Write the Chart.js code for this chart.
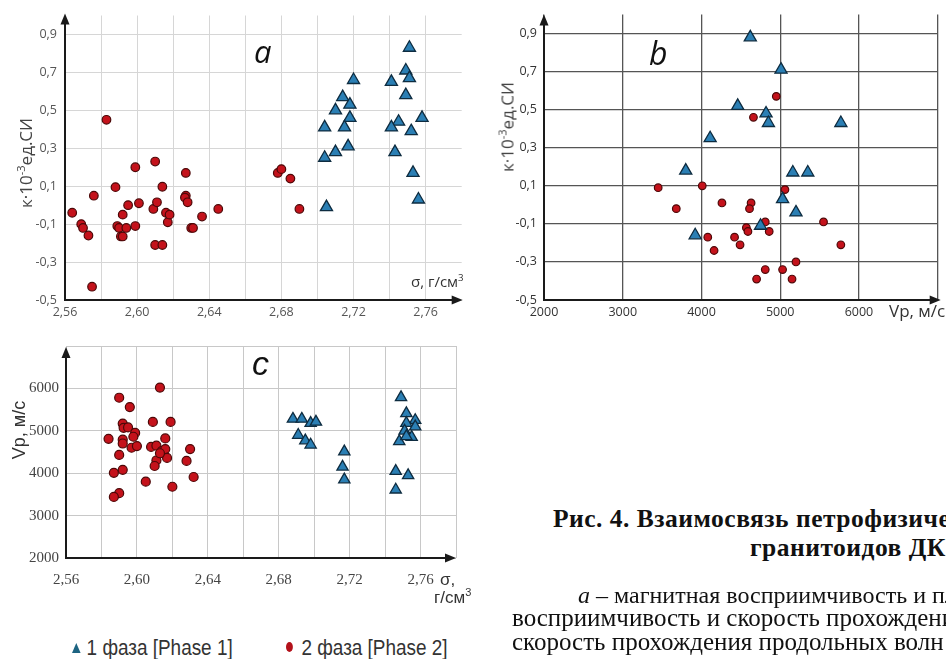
<!DOCTYPE html>
<html lang="ru"><head><meta charset="utf-8">
<script src="https://cdn.jsdelivr.net/npm/chart.js@4.4.1/dist/chart.umd.min.js"></script>
<style>
html,body{margin:0;padding:0;width:946px;height:659px;overflow:hidden;background:#fff;position:relative}
canvas{position:absolute}
.t{position:absolute;white-space:nowrap;line-height:1}
.rot{position:absolute;white-space:nowrap;line-height:1;transform:translate(-50%,-50%) rotate(-90deg)}
.os{font-family:"Open Sans",sans-serif}
.nar{font-family:"Liberation Sans Narrow","Arial Narrow","Liberation Sans",sans-serif}
.ser{font-family:"Liberation Serif","Times New Roman",serif;color:#111}
sup{font-size:65%;position:relative;top:-0.6em;vertical-align:0;line-height:0}
.tri{display:inline-block;width:0;height:0;border-left:5px solid transparent;border-right:5px solid transparent;border-bottom:10px solid #1d6482;margin-right:7px;vertical-align:2px}
.dot{display:inline-block;width:8px;height:10px;border-radius:50%;background:#b3111a;margin-right:10px;vertical-align:3px}
.sq{transform-origin:0 50%;transform:scaleX(0.86)}
</style></head><body>
<canvas id="chA" width="470" height="322" style="left:0;top:0"></canvas>
<canvas id="chB" width="476" height="322" style="left:470px;top:0"></canvas>
<canvas id="chC" width="470" height="270" style="left:0;top:330px"></canvas>

<div class="rot os" style="left:25px;top:163px;font-size:17px;color:#444">к·10<sup>-3</sup>ед.СИ</div>
<div class="rot os" style="left:507px;top:127px;font-size:17px;color:#444">к·10<sup>-3</sup>ед.СИ</div>
<div class="rot nar" style="left:19px;top:430px;font-size:18px;color:#333">Vp, м/с</div>

<div class="t os" style="left:254px;top:36px;font-size:31px;font-style:italic;color:#111">a</div>
<div class="t os" style="left:649px;top:37px;font-size:32px;font-style:italic;color:#111">b</div>
<div class="t" style="left:252px;top:346px;font-size:34px;font-style:italic;color:#111;font-family:'Liberation Sans',sans-serif">c</div>

<div class="t os" style="left:411px;top:274px;font-size:15px;color:#333">σ, г/см<sup>3</sup></div>
<div class="t os" style="left:889px;top:302px;font-size:17px;color:#333">Vp, м/с</div>
<div class="t nar" style="left:440px;top:571px;font-size:17px;color:#333">σ,</div>
<div class="t nar" style="left:434px;top:589px;font-size:17px;color:#333">г/см<sup>3</sup></div>

<div class="t nar sq" style="left:72px;top:637px;font-size:22px;color:#333"><span class="tri"></span>1 фаза [Phase 1]</div>
<div class="t nar sq" style="left:286px;top:637px;font-size:22px;color:#333"><span class="dot"></span>2 фаза [Phase 2]</div>

<div class="t ser" style="left:553px;top:506px;font-size:25.5px;letter-spacing:0.5px;font-weight:bold">Рис. 4. Взаимосвязь петрофизических свойств</div>
<div class="t ser" style="left:750px;top:535px;font-size:25.5px;letter-spacing:0.5px;font-weight:bold">гранитоидов ДКМ</div>
<div class="t ser" style="left:578px;top:583px;font-size:24px"><i>а</i> – магнитная восприимчивость и плотность</div>
<div class="t ser" style="left:512px;top:605px;font-size:25px">восприимчивость и скорость прохождения</div>
<div class="t ser" style="left:512px;top:629px;font-size:25px">скорость прохождения продольных волн</div>

<script>
// ---------- Panel a: density vs magnetic susceptibility ----------
const aPhase1X = [2.751,2.749,2.751,2.741,2.720,2.749,2.714,2.718,2.710,2.718,2.758,2.715,2.704,2.745,2.741,2.752,2.717,2.710,2.704,2.743,2.753,2.756,2.705];
const aPhase1Y = [0.83,0.71,0.67,0.65,0.66,0.58,0.57,0.53,0.50,0.46,0.46,0.41,0.41,0.44,0.41,0.39,0.31,0.28,0.25,0.28,0.17,0.03,-0.01];
const aPhase2X = [2.564,2.569,2.570,2.573,2.576,2.575,2.583,2.588,2.589,2.590,2.591,2.592,2.592,2.594,2.595,2.599,2.599,2.601,2.609,2.610,2.610,2.611,2.614,2.614,2.616,2.617,2.618,2.627,2.627,2.6265,2.628,2.630,2.631,2.636,2.645,2.678,2.680,2.685,2.690];
const aPhase2Y = [-0.04,-0.10,-0.12,-0.16,0.05,-0.43,0.45,0.095,-0.11,-0.12,-0.165,-0.165,-0.05,-0.12,0.00,0.20,-0.11,0.01,-0.02,0.23,-0.21,0.015,-0.21,0.097,-0.04,-0.09,-0.05,0.17,0.05,0.04,0.015,-0.12,-0.12,-0.06,-0.02,0.17,0.19,0.14,-0.02];

// ---------- Panel b: Vp vs magnetic susceptibility ----------
const bPhase1X = [3800,3920,4110,4620,5010,4460,4820,4850,5770,5160,5350,5030,5200,4750];
const bPhase1Y = [0.18,-0.16,0.35,0.88,0.71,0.52,0.48,0.43,0.43,0.17,0.17,0.03,-0.04,-0.11];
const bPhase2X = [3450,3680,4010,4080,4950,4660,5060,4260,4630,4610,5550,4810,4570,4590,4860,4420,4490,4160,5770,5200,4810,5030,4700,5150];
const bPhase2Y = [0.09,-0.02,0.10,-0.17,0.57,0.46,0.08,0.01,0.01,-0.02,-0.09,-0.09,-0.12,-0.14,-0.14,-0.17,-0.21,-0.24,-0.21,-0.30,-0.34,-0.34,-0.39,-0.39];

// ---------- Panel c: density vs Vp ----------
const cPhase1X = [2.749,2.688,2.693,2.698,2.701,2.691,2.695,2.698,2.717,2.716,2.717,2.752,2.757,2.752,2.757,2.751,2.755,2.748,2.752,2.746,2.753,2.746];
const cPhase1Y = [5790,5280,5280,5180,5210,4900,4770,4670,4510,4150,3850,5410,5250,5180,5100,5000,4850,4750,4870,4050,3950,3610];
const cPhase2X = [2.613,2.590,2.596,2.609,2.619,2.592,2.5925,2.595,2.599,2.598,2.584,2.592,2.592,2.616,2.597,2.600,2.608,2.611,2.614,2.616,2.630,2.590,2.617,2.611,2.610,2.628,2.592,2.587,2.632,2.605,2.620,2.590,2.587,2.613];
const cPhase2Y = [6020,5780,5560,5210,5210,5170,5070,5080,4950,4860,4810,4790,4700,4820,4600,4640,4620,4650,4520,4570,4570,4430,4360,4300,4170,4290,4080,4010,3910,3800,3680,3530,3440,4470];

// ---------- ticks ----------
const densityGrid = [2.56,2.58,2.60,2.62,2.64,2.66,2.68,2.70,2.72,2.74,2.76];
const densityGridC = [2.56,2.58,2.60,2.62,2.64,2.66,2.68,2.70,2.72,2.74,2.76,2.78];
const densityLabels = ['2,56','2,60','2,64','2,68','2,72','2,76'];
const kappaGrid = [-0.5,-0.3,-0.1,0.1,0.3,0.5,0.7,0.9];
const vpGridB = [2000,3000,4000,5000,6000,7000];
const vpLabelsB = ['2000','3000','4000','5000','6000'];
const vpGridC = [2000,3000,4000,5000,6000,7000];
const vpLabelsC = ['2000','3000','4000','5000','6000'];

const RED = '#c4121b', RED_EDGE = '#4d0808';
const BLUE = '#2b7fb4', BLUE_EDGE = '#0e2c40';

const zip = (xs, ys) => xs.map((x, i) => ({x, y: ys[i]}));
const comma2 = v => v.toFixed(2).replace('.', ',');
const comma1 = v => v.toFixed(1).replace('.', ',');

const axisArrows = {
  id: 'axisArrows',
  beforeDatasetsDraw(chart, args, o) {
    const {ctx, chartArea: {left, right, top, bottom}} = chart;
    const ey = o.ey || 0, ex = o.ex || 0, L = 11, W = 4.5;
    ctx.save();
    ctx.strokeStyle = ctx.fillStyle = '#1a1a1a';
    ctx.lineWidth = o.lw || 2;
    ctx.beginPath();
    ctx.moveTo(left, bottom + 1); ctx.lineTo(left, top - ey + L - 1);
    ctx.moveTo(left - 1, bottom); ctx.lineTo(right + ex - L + 1, bottom);
    ctx.stroke();
    ctx.beginPath();
    ctx.moveTo(left, top - ey); ctx.lineTo(left - W, top - ey + L); ctx.lineTo(left + W, top - ey + L); ctx.closePath(); ctx.fill();
    ctx.beginPath();
    ctx.moveTo(right + ex, bottom); ctx.lineTo(right + ex - L, bottom - W); ctx.lineTo(right + ex - L, bottom + W); ctx.closePath(); ctx.fill();
    ctx.restore();
  }
};

function scatter(id, o) {
  return new Chart(document.getElementById(id), {
    type: 'scatter',
    data: {datasets: [
      {label: '1 фаза [Phase 1]', data: zip(o.p1x, o.p1y), pointStyle: 'triangle', pointRadius: o.tr,
       backgroundColor: BLUE, borderColor: BLUE_EDGE, borderWidth: 1.3},
      {label: '2 фаза [Phase 2]', data: zip(o.p2x, o.p2y), pointStyle: 'circle', pointRadius: o.cr,
       backgroundColor: RED, borderColor: RED_EDGE, borderWidth: 1.2}
    ]},
    options: {
      responsive: false, animation: false, events: [],
      layout: {padding: o.pad},
      plugins: {legend: {display: false}, tooltip: {enabled: false}, axisArrows: {ex: o.ex, ey: o.ey}},
      scales: {
        x: {type: 'linear', min: o.xmin, max: o.xmax, border: {display: false},
            grid: {color: o.grid, lineWidth: o.gw, drawTicks: false},
            ticks: {padding: o.xpad, color: o.tc, font: o.font, maxRotation: 0, autoSkip: false, callback: o.xcb},
            afterBuildTicks: s => { s.ticks = o.xgrid.map(v => ({value: v})); },
            afterFit: s => { s.height = o.xh; }},
        y: {type: 'linear', min: o.ymin, max: o.ymax, border: {display: false},
            grid: {color: o.grid, lineWidth: o.gw, drawTicks: false},
            ticks: {padding: o.ypad, color: o.tc, font: o.font, autoSkip: false, callback: o.ycb},
            afterBuildTicks: s => { s.ticks = o.ygrid.map(v => ({value: v})); },
            afterFit: s => { s.width = o.yw; }}
      }
    },
    plugins: [axisArrows]
  });
}

scatter('chA', {
  p1x: aPhase1X, p1y: aPhase1Y, p2x: aPhase2X, p2y: aPhase2Y, tr: 7, cr: 4.3,
  xmin: 2.56, xmax: 2.78, ymin: -0.5, ymax: 1.0, xgrid: densityGrid, ygrid: kappaGrid,
  xcb: v => densityLabels.includes(comma2(v)) ? comma2(v) : '', ycb: v => comma1(v),
  pad: {top: 14, right: 6, left: 0, bottom: 0}, xh: 22, yw: 65, xpad: 5, ypad: 8,
  grid: '#d6d6d6', gw: 1, tc: '#555', font: {family: 'Open Sans', size: 12.5}, ex: 1, ey: 2
});

scatter('chB', {
  p1x: bPhase1X, p1y: bPhase1Y, p2x: bPhase2X, p2y: bPhase2Y, tr: 7, cr: 3.8,
  xmin: 2000, xmax: 7000, ymin: -0.5, ymax: 1.0, xgrid: vpGridB, ygrid: kappaGrid,
  xcb: v => vpLabelsB.includes(String(v)) ? String(v) : '', ycb: v => comma1(v),
  pad: {top: 14, right: 5, left: 0, bottom: 0}, xh: 22, yw: 74, xpad: 5, ypad: 7,
  grid: '#555', gw: 1.3, tc: '#333', font: {family: 'Open Sans', size: 12.5}, ex: 3, ey: 0
});

scatter('chC', {
  p1x: cPhase1X, p1y: cPhase1Y, p2x: cPhase2X, p2y: cPhase2Y, tr: 6.5, cr: 4.5,
  xmin: 2.56, xmax: 2.78, ymin: 2000, ymax: 7000, xgrid: densityGridC, ygrid: vpGridC,
  xcb: v => densityLabels.includes(comma2(v)) ? comma2(v) : '',
  ycb: v => vpLabelsC.includes(String(v)) ? String(v) : '',
  pad: {top: 13, right: 14, left: 0, bottom: 0}, xh: 42, yw: 66, xpad: 13, ypad: 7,
  grid: '#c8c8c8', gw: 1, tc: '#444', font: {family: 'Liberation Sans Narrow', size: 15}, ex: 0, ey: -1
});
</script>
</body></html>
